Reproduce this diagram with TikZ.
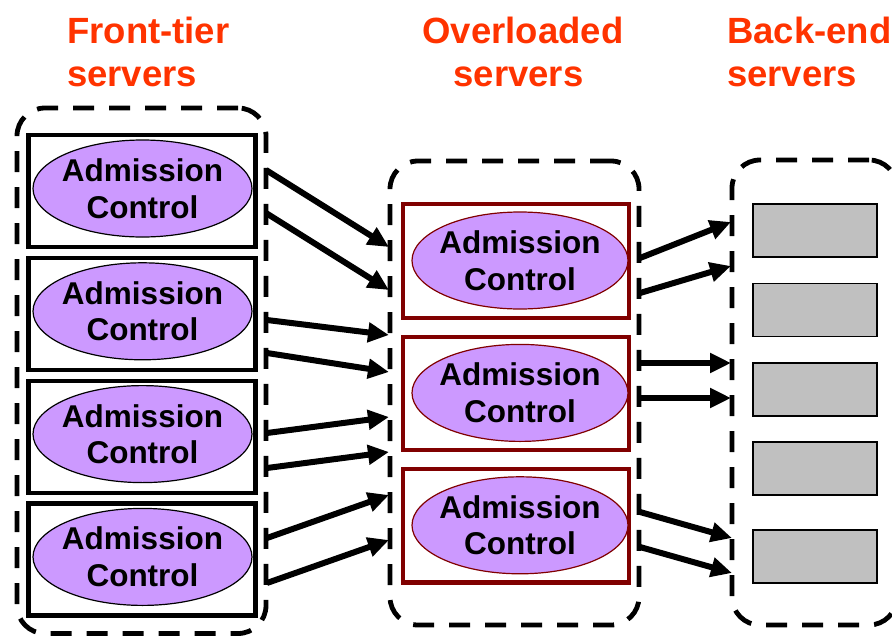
\documentclass[tikz,border=0pt]{standalone}
\usepackage{fontspec}
\setmainfont{Liberation Sans}
\usetikzlibrary{arrows.meta,shapes.geometric}
\definecolor{titlered}{RGB}{255,51,0}
\definecolor{lilac}{RGB}{204,153,255}
\definecolor{boxred}{RGB}{128,0,0}
\definecolor{srvgray}{RGB}{192,192,192}
\begin{document}
\begin{tikzpicture}[x=1pt,y=-1pt,
  title/.style={text=titlered,font=\bfseries\fontsize{36.5}{43}\selectfont,inner sep=0pt},
  group/.style={draw=black,line width=4.8pt,dash pattern=on 21pt off 15pt,rounded corners=28pt,rectangle,inner sep=0pt},
  frontbox/.style={draw=black,line width=4.2pt,minimum width=227pt,minimum height=112pt,inner sep=0pt},
  midbox/.style={draw=boxred,line width=4.2pt,minimum width=226.5pt,minimum height=113.5pt,inner sep=0pt},
  ac/.style={ellipse,fill=lilac,draw=black,line width=1.2pt,minimum width=219pt,minimum height=97pt,inner sep=0pt},
  acmid/.style={ac,draw=boxred,minimum width=216pt},
  actext/.style={align=center,inner sep=0pt,font=\bfseries\fontsize{31.5}{36.5}\selectfont},
  backbox/.style={draw=black,line width=1.5pt,fill=srvgray,minimum width=124pt,minimum height=53pt,inner sep=0pt},
  arr/.style={line width=6pt,-{Triangle[length=21pt,width=19pt]}}]
\useasboundingbox (0,0) rectangle (892,635);
\clip (0,0) rectangle (892,635);

% titles
\node[title,anchor=base west] (t1a) at (67,43.5) {Front-tier};
\node[title,anchor=base west] (t1b) at (67,86) {servers};
\node[title,anchor=base] (t2a) at (523,43.5) {Overloaded};
\node[title,anchor=base] (t2b) at (518.5,86) {servers};
\node[title,anchor=base west] (t3a) at (727,43.5) {Back-end};
\node[title,anchor=base west] (t3b) at (727,86) {servers};

% containers
\node[group,minimum width=249pt,minimum height=525.5pt] (lc) at (141.5,370.75) {};
\node[group,minimum width=249pt,minimum height=464pt] (mc) at (514.5,393) {};
\node[group,minimum width=165pt,minimum height=465pt] (rc) at (814.5,392.5) {};

% front-tier servers
\foreach \i/\y in {1/191,2/313.8,3/436.6,4/559.4}{
  \node[frontbox] (f\i) at (142,\y) {};
  \node[ac] (fe\i) at (142.5,\y-2.5) {};
  \node[actext] (ft\i) at (fe\i) {Admission\\Control};
}

% overloaded servers
\foreach \i/\y in {1/261,2/393.4,3/525.8}{
  \node[midbox] (m\i) at (516,\y) {};
  \node[acmid] (me\i) at (520,\y-0.5) {};
  \node[actext] (mt\i) at (me\i) {Admission\\Control};
}

% back-end servers
\foreach \i/\y in {1/230.5,2/310,3/389.5,4/468.5,5/556.5}{
  \node[backbox] (b\i) at (815,\y) {};
}

% arrow end points
\coordinate (s1) at (266,170);  \coordinate (e1) at (389,247);
\coordinate (s2) at (266,213);  \coordinate (e2) at (389,290);
\coordinate (s3) at (267,320);  \coordinate (e3) at (389,335);
\coordinate (s4) at (267,353);  \coordinate (e4) at (389,372);
\coordinate (s5) at (267,433);  \coordinate (e5) at (389,417);
\coordinate (s6) at (267,468);  \coordinate (e6) at (389,452);
\coordinate (s7) at (267,538);  \coordinate (e7) at (389,495);
\coordinate (s8) at (267,583);  \coordinate (e8) at (389,540);
\coordinate (s9) at (640,258);  \coordinate (e9) at (731,222);
\coordinate (s10) at (640,293); \coordinate (e10) at (731,266);
\coordinate (s11) at (640,363); \coordinate (e11) at (731,363);
\coordinate (s12) at (640,398); \coordinate (e12) at (731,398);
\coordinate (s13) at (640,512); \coordinate (e13) at (732,538);
\coordinate (s14) at (640,547); \coordinate (e14) at (732,573);

\foreach \k in {1,...,14}{
  \draw[arr] (s\k) -- (e\k);
}
\end{tikzpicture}
\end{document}
